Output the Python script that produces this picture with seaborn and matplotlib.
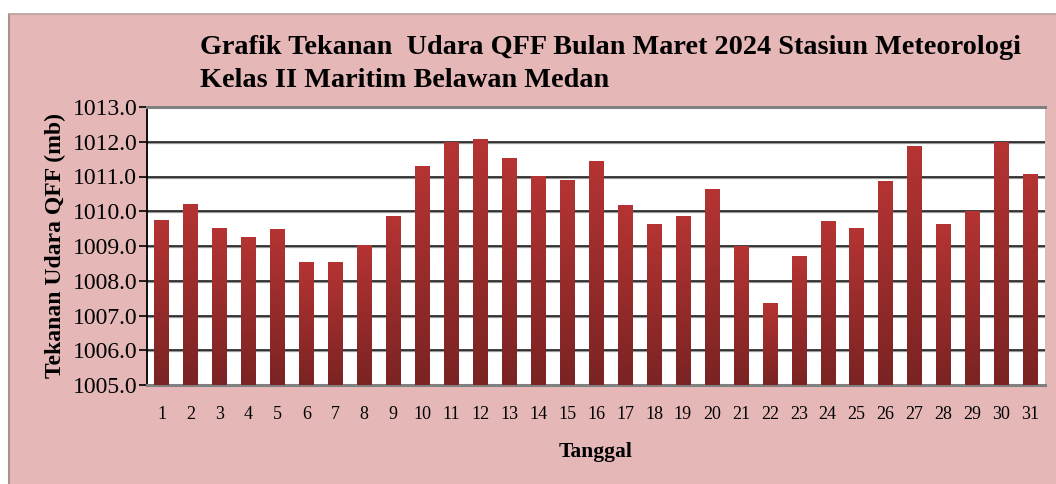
import numpy as np
import pandas as pd
import seaborn as sns
import matplotlib
matplotlib.use("Agg")
import matplotlib.pyplot as plt
from matplotlib.patches import Rectangle
from matplotlib.colors import LinearSegmentedColormap

# ---- data ----
days = [str(d) for d in range(1, 32)]
qff = [1009.74, 1010.22, 1009.53, 1009.27, 1009.49, 1008.55, 1008.54, 1009.03,
       1009.85, 1011.29, 1012.00, 1012.08, 1011.53, 1011.02, 1010.90, 1011.46,
       1010.17, 1009.64, 1009.87, 1010.65, 1009.00, 1007.37, 1008.70, 1009.73,
       1009.52, 1010.86, 1011.89, 1009.62, 1010.02, 1012.00, 1011.08]
yticks = [1005.0, 1006.0, 1007.0, 1008.0, 1009.0, 1010.0, 1011.0, 1012.0, 1013.0]
title = "Grafik Tekanan  Udara QFF Bulan Maret 2024 Stasiun Meteorologi\nKelas II Maritim Belawan Medan"
xlabel = "Tanggal"
ylabel = "Tekanan Udara QFF (mb)"

df = pd.DataFrame({"Tanggal": days, "QFF": qff})

sns.set_theme(style="white")
plt.rcParams["font.family"] = ["Liberation Serif", "DejaVu Serif"]

W, H = 1056, 484
fig = plt.figure(figsize=(W / 100, H / 100), dpi=100, facecolor="white")
pink = "#E5B7B7"
fig.patches.append(Rectangle((9 / W, 0), (W - 9) / W, (H - 14) / H,
                             transform=fig.transFigure, facecolor=pink,
                             edgecolor="none", zorder=-10))
fig.add_artist(plt.Line2D([9 / W, 9 / W], [0, 1 - 14 / H], transform=fig.transFigure,
                          color="#A89090", lw=1.5))
fig.add_artist(plt.Line2D([9 / W, 1], [1 - 14 / H, 1 - 14 / H], transform=fig.transFigure,
                          color="#B8A0A0", lw=1.2))

ax = fig.add_axes([147 / W, 1 - 385 / H, (1045 - 147) / W, (385 - 107) / H])
ax.set_facecolor("white")

sns.barplot(data=df, x="Tanggal", y="QFF", color="#A02C2C", width=0.5,
            ax=ax, zorder=3)

ax.set_ylim(1005, 1013)
ax.set_yticks(yticks)
ax.set_yticklabels([f"{v:.1f}" for v in yticks])
ax.set_xlim(-0.5, len(days) - 0.5)

# gradient fill on bars
cmap = LinearSegmentedColormap.from_list("bar", ["#7A2323", "#B53433"])
grad = np.linspace(0, 1, 256).reshape(-1, 1)
ymin = ax.get_ylim()[0]
for p in list(ax.patches):
    x0 = p.get_x()
    w = p.get_width()
    top = p.get_y() + p.get_height()
    p.set_facecolor("none")
    p.set_edgecolor("none")
    im = ax.imshow(grad, cmap=cmap, aspect="auto", origin="lower",
                   extent=[x0, x0 + w, ymin, top], zorder=3)
    im.set_clip_path(p)
ax.set_xlim(-0.5, len(days) - 0.5)
ax.set_ylim(1005, 1013)

# grid
for v in yticks[1:-1]:
    ax.axhline(v - 0.03, color="#9A9A9A", lw=1.6, zorder=1)
    ax.axhline(v, color="#111111", lw=1.1, zorder=2)

for s in ["top", "bottom"]:
    ax.spines[s].set_color("#808080")
    ax.spines[s].set_linewidth(2.2)
ax.spines["right"].set_visible(False)
ax.spines["left"].set_color("black")
ax.spines["left"].set_linewidth(1.3)

ax.tick_params(axis="y", which="major", left=True, length=6, width=1.2,
               color="black", labelsize=17, pad=1, labelcolor="black")
ax.tick_params(axis="x", bottom=False, labelsize=13, pad=9, labelcolor="black")

ax.set_xlabel(xlabel, fontsize=15.5, fontweight="bold", labelpad=14, color="black")
ax.set_ylabel(ylabel, fontsize=17, fontweight="bold", labelpad=5, color="black")

fig.text(200 / W, 1 - 35 / H, title, ha="left", va="top", fontsize=20.3,
         fontweight="bold", linespacing=1.4, color="black")

fig.savefig("out.png", dpi=100, facecolor=fig.get_facecolor())
